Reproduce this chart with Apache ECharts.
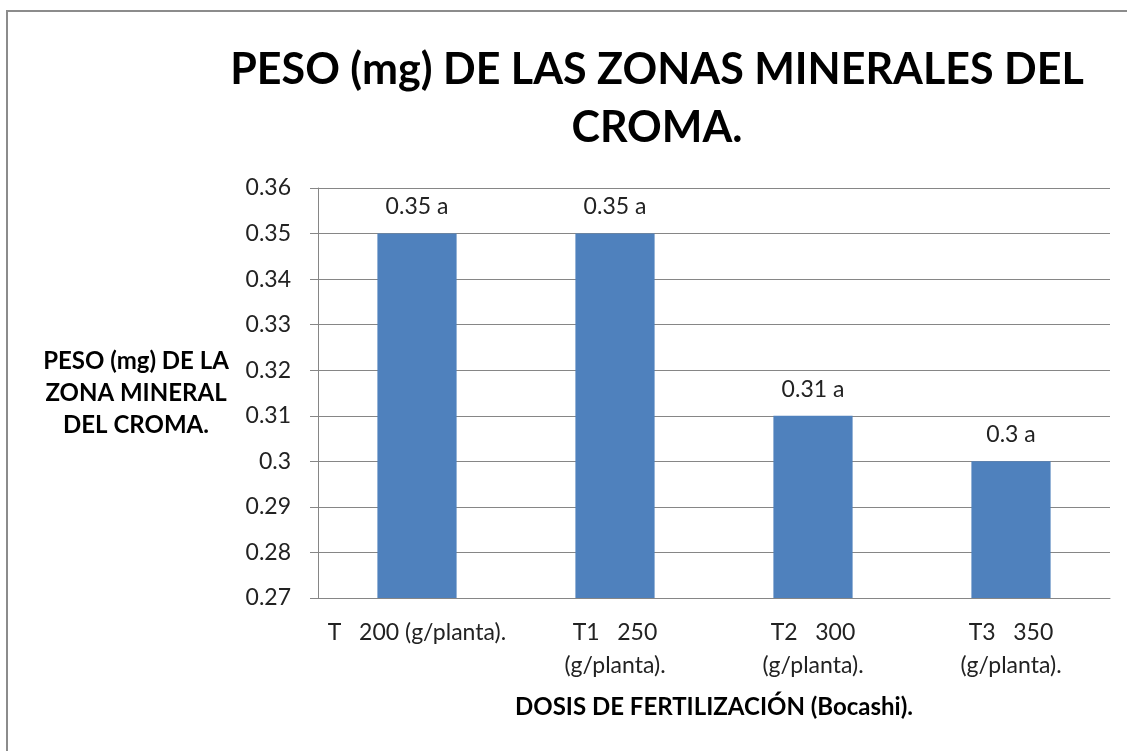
<!DOCTYPE html>
<html>
<head>
<meta charset="utf-8">
<script src="https://cdn.jsdelivr.net/npm/echarts@6/dist/echarts.min.js"></script>
<style>
html, body { margin: 0; padding: 0; background: #fff; }
#chart { width: 1127px; height: 751px; }
</style>
</head>
<body>
<div id="chart"></div>
<script>
var categories = ['T   200 (g/planta).', 'T1   250\n(g/planta).', 'T2   300\n(g/planta).', 'T3   350\n(g/planta).']
var pesoValues = [0.35, 0.35, 0.31, 0.30]
var letters = ['a', 'a', 'a', 'a']

var font = 'Lato, Calibri, sans-serif'
var chart = echarts.init(document.getElementById('chart'))

chart.setOption({
  animation: false,
  title: {
    text: 'PESO (mg) DE LAS ZONAS MINERALES DEL\nCROMA.',
    left: 652,
    top: 36,
    textAlign: 'center',
    textStyle: {
      fontFamily: font,
      fontSize: 43,
      fontWeight: 'bold',
      color: '#000',
      lineHeight: 58
    }
  },
  graphic: [{
    type: 'rect',
    shape: { x: 7, y: 11, width: 1300, height: 900 },
    style: { fill: 'none', stroke: '#8c8c8c', lineWidth: 2 },
    silent: true
  }],
  grid: { left: 318, right: 17, top: 188, bottom: 153 },
  xAxis: {
    type: 'category',
    data: categories,
    name: 'DOSIS DE FERTILIZACIÓN (Bocashi).',
    nameLocation: 'middle',
    nameGap: 97,
    nameTextStyle: { fontFamily: font, fontSize: 24, fontWeight: 'bold', color: '#000' },
    axisLine: { lineStyle: { color: '#868686', width: 1 } },
    axisTick: { length: 8, lineStyle: { color: '#868686' } },
    axisLabel: {
      fontFamily: font, fontSize: 23, color: '#222', margin: 18, lineHeight: 33, interval: 0
    }
  },
  yAxis: {
    type: 'value',
    min: 0.27,
    max: 0.36,
    interval: 0.01,
    name: 'PESO (mg) DE LA\nZONA MINERAL\nDEL CROMA.',
    nameLocation: 'middle',
    nameRotate: 0,
    nameGap: 182,
    nameTextStyle: { fontFamily: font, fontSize: 24, fontWeight: 'bold', color: '#000', align: 'center', lineHeight: 32 },
    axisLine: { show: true, lineStyle: { color: '#868686', width: 1 } },
    axisTick: { show: true, length: 8, lineStyle: { color: '#868686' } },
    splitLine: { lineStyle: { color: '#868686', width: 1 } },
    axisLabel: {
      fontFamily: font, fontSize: 23, color: '#222', margin: 27,
      formatter: function (v) { return String(+v.toFixed(2)) }
    }
  },
  series: [{
    type: 'bar',
    data: pesoValues,
    barWidth: '40%',
    itemStyle: { color: '#4F81BD' },
    label: {
      show: true,
      position: 'top',
      distance: 15,
      fontFamily: font,
      fontSize: 23,
      color: '#222',
      formatter: function (p) { return p.value + ' ' + letters[p.dataIndex] }
    }
  }]
})
</script>
</body>
</html>
